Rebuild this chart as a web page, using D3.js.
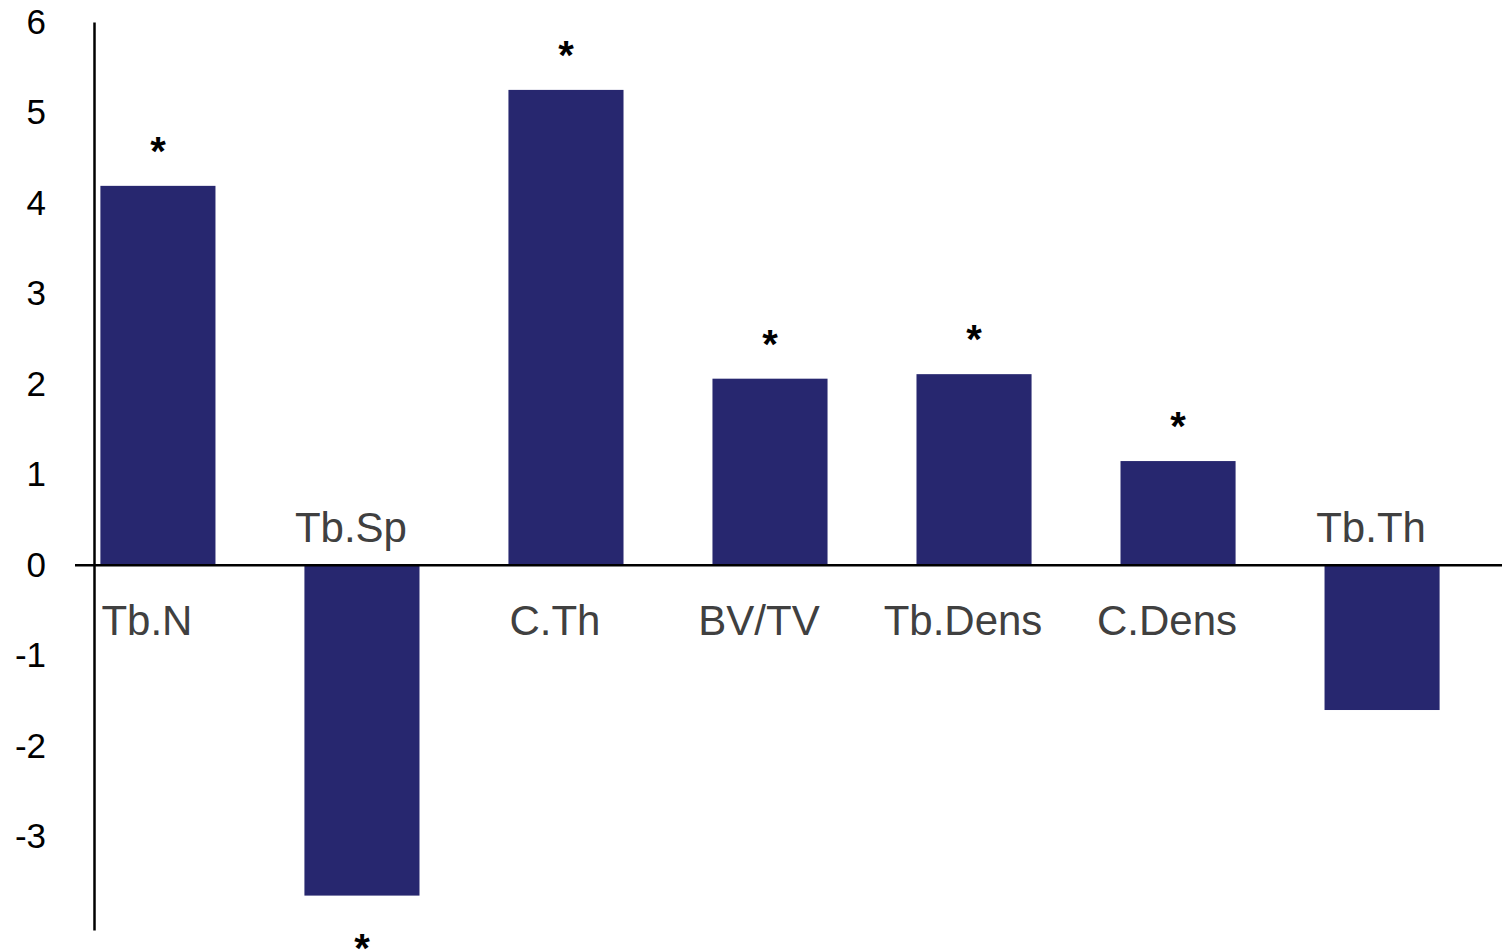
<!DOCTYPE html>
<html>
<head>
<meta charset="utf-8">
<script src="https://cdn.jsdelivr.net/npm/d3@7"></script>
<style>
  html, body { margin: 0; padding: 0; background: #ffffff; }
  svg { display: block; }
</style>
</head>
<body>
<svg id="chart" width="1502" height="952"></svg>
<script>
const categories = ["Tb.N", "Tb.Sp", "C.Th", "BV/TV", "Tb.Dens", "C.Dens", "Tb.Th"];
const values = [4.19, -3.65, 5.25, 2.06, 2.11, 1.15, -1.60];
const significant = [true, true, true, true, true, true, false];
const yTicks = [6, 5, 4, 3, 2, 1, 0, -1, -2, -3];

const data = categories.map((c, i) => ({ cat: c, value: values[i], sig: significant[i] }));

const svg = d3.select("#chart");
const barColor = "#27276f";
const labelColor = "#404040";
const font = "'Liberation Sans', Arial, Helvetica, sans-serif";

const x = d3.scaleBand()
  .domain(categories)
  .range([80, 1460])
  .paddingInner(0.436)
  .paddingOuter(0.1);

const y = d3.scaleLinear()
  .domain([-4.03, 6])
  .range([930, 22]);

// Bars
svg.append("g").selectAll("rect")
  .data(data)
  .join("rect")
  .attr("x", d => x(d.cat))
  .attr("width", x.bandwidth())
  .attr("y", d => y(Math.max(0, d.value)))
  .attr("height", d => Math.abs(y(d.value) - y(0)))
  .attr("fill", barColor);

// Y axis
const yAxis = d3.axisLeft(y)
  .tickValues(yTicks)
  .tickSizeInner(0)
  .tickSizeOuter(0)
  .tickPadding(48)
  .tickFormat(d => String(d));

const gy = svg.append("g")
  .attr("transform", "translate(94,0)")
  .call(yAxis);
gy.select(".domain").attr("stroke", "#000").attr("stroke-width", 2.5);
gy.selectAll(".tick text")
  .attr("font-family", font)
  .attr("font-size", 35)
  .attr("fill", "#000");

// Zero line
svg.append("line")
  .attr("x1", 75).attr("x2", 1502)
  .attr("y1", y(0)).attr("y2", y(0))
  .attr("stroke", "#000")
  .attr("stroke-width", 2.5);

// Category labels
svg.append("g").selectAll("text")
  .data(data)
  .join("text")
  .attr("x", d => x(d.cat) + x.bandwidth() / 2 - 11)
  .attr("y", d => d.value >= 0 ? y(0) + 70 : y(0) - 23)
  .attr("text-anchor", "middle")
  .attr("font-family", font)
  .attr("font-size", 42)
  .attr("fill", labelColor)
  .text(d => d.cat);

// Significance asterisks
svg.append("g").selectAll("text")
  .data(data.filter(d => d.sig))
  .join("text")
  .attr("x", d => x(d.cat) + x.bandwidth() / 2)
  .attr("y", d => d.value >= 0 ? y(d.value) - 21 : y(d.value) + 66)
  .attr("text-anchor", "middle")
  .attr("font-family", font)
  .attr("font-size", 40)
  .attr("font-weight", "bold")
  .attr("fill", "#000")
  .text("*");
</script>
</body>
</html>
